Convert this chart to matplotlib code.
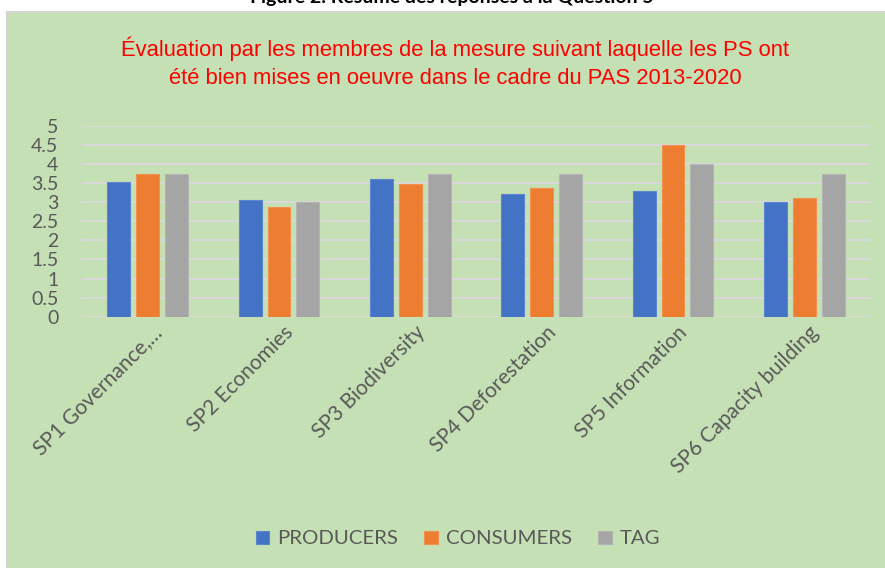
import matplotlib
matplotlib.use("Agg")
import matplotlib.pyplot as plt
import numpy as np
from matplotlib.patches import Rectangle

categories = ["SP1 Governance,…", "SP2 Economies", "SP3 Biodiversity",
              "SP4 Deforestation", "SP5 Information", "SP6 Capacity building"]
producers = [3.53, 3.06, 3.61, 3.22, 3.30, 3.0]
consumers = [3.75, 2.88, 3.49, 3.37, 4.5, 3.11]
tag = [3.75, 3.0, 3.75, 3.75, 4.0, 3.75]
series_names = ["PRODUCERS", "CONSUMERS", "TAG"]
yticks = [0, 0.5, 1, 1.5, 2, 2.5, 3, 3.5, 4, 4.5, 5]

colors = ["#4472c4", "#ed7d31", "#a5a5a5"]
edge = ["#5b86d0", "#f0914d", "#b4b4b4"]
bg = "#c5e0b4"
txt = "#595959"
W, H = 885, 568

fig = plt.figure(figsize=(W/100, H/100), dpi=100, facecolor="white")
fig.patches.append(Rectangle((7/W, -0.01), 1.0, (H-12)/H + 0.01, transform=fig.transFigure,
                             facecolor=bg, edgecolor="#d4d4d4", linewidth=1.5, zorder=-10))

fig.text(0.51, 1 - 3/H, "Figure 2. Résumé des réponses à la Question 5", ha="center",
         va="baseline", fontsize=14, fontweight="bold", family="Lato", color="black")

ax = fig.add_axes([82/W, 1 - 316.7/H, (870-82)/W, (316.7-126)/H])
ax.set_facecolor("none")
x = np.arange(len(categories))
bw = 0.175
off = 0.22
for i, (vals, name) in enumerate(zip([producers, consumers, tag], series_names)):
    ax.bar(x + (i-1)*off, vals, width=bw, color=colors[i], edgecolor=edge[i],
           linewidth=0.8, label=name, zorder=3)

ax.set_xlim(-0.5, len(categories) - 0.5)
ax.set_ylim(0, 5)
ax.set_yticks(yticks)
ax.set_yticklabels([f"{v:g}" for v in yticks], family="Lato", fontsize=14, color=txt)
ax.yaxis.grid(True, color="#d9d9d9", linewidth=1.5, zorder=0)
ax.set_axisbelow(True)
for s in ax.spines.values():
    s.set_visible(False)
ax.tick_params(axis="both", length=0)
ax.tick_params(axis="x", pad=4)
ax.tick_params(axis="y", pad=17)
ax.set_xticks(x + 0.03)
ax.set_xticklabels(categories, rotation=45, ha="right", rotation_mode="anchor",
                   family="Lato", fontsize=15, color=txt)

fig.text(455/W, 1 - 63/H, "Évaluation par les membres de la mesure suivant laquelle les PS ont\n"
         "été bien mises en oeuvre dans le cadre du PAS 2013-2020",
         ha="center", va="center", color="#ff0000", fontsize=15.8,
         family="Liberation Sans", linespacing=1.42)

leg = fig.legend(loc="center", bbox_to_anchor=(458/W, 1 - 539/H), ncol=3, frameon=False,
                 prop={"family": "Lato", "size": 14.7}, handlelength=0.65, handleheight=0.65,
                 handletextpad=0.4, columnspacing=1.3, labelcolor=txt)

fig.savefig("out.png", dpi=100, facecolor="white")
